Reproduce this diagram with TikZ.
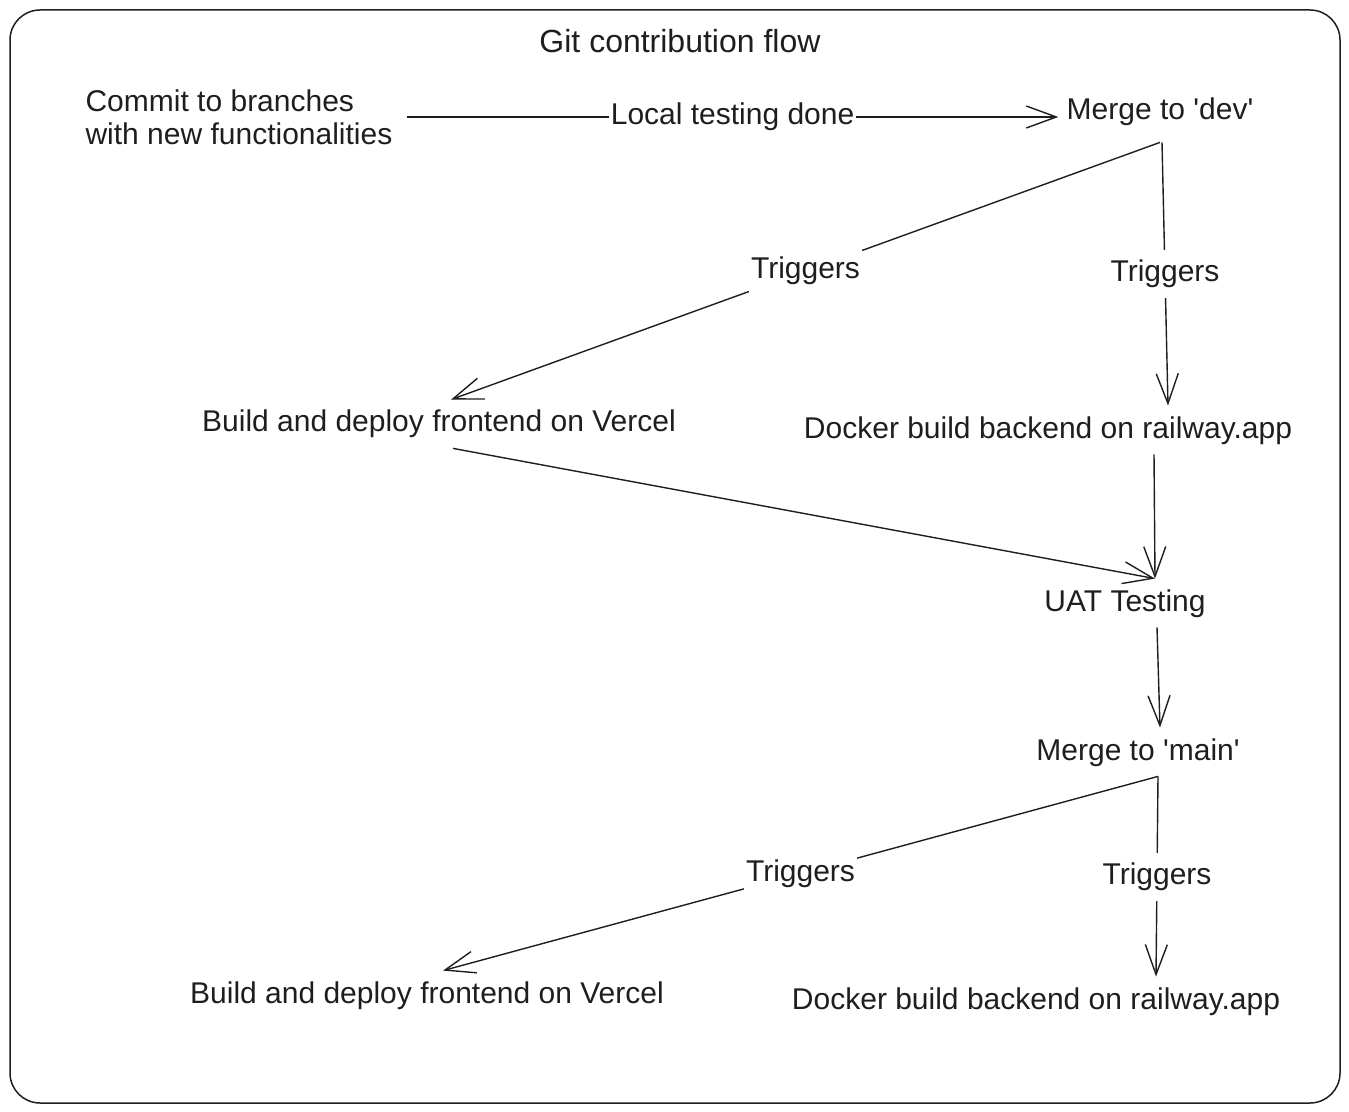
\documentclass[tikz,border=0pt]{standalone}
\usepackage{fontspec}
\setmainfont{Liberation Sans}
\usetikzlibrary{arrows.meta}
\definecolor{ink}{HTML}{1E1E1E}
\tikzset{
  lbl/.style={text=ink, font=\fontsize{15}{16.5}\selectfont, inner xsep=4pt, inner ysep=5pt, text height=11pt, text depth=3pt},
  wire/.style={draw=ink, line width=0.7pt, -{Straight Barb[length=15pt,width=11pt]}},
  trig/.style={lbl, fill=white, midway, inner xsep=1pt},
}

\begin{document}
\begin{tikzpicture}[x=0.5pt, y=-0.5pt]
      % Frame, nodes and wires:
      \useasboundingbox (0, 0) rectangle (1349, 1112);
      \draw[ink, line width=0.75pt, rounded corners=15pt] (10, 10) rectangle (1340, 1103);
      \node[lbl, font=\fontsize{16}{18}\selectfont](title) at (680, 45){Git contribution flow};
      \node[lbl, align=left, text height=, text depth=](commit) at (239, 117){Commit to branches\\with new functionalities};
      \node[lbl](mergedev) at (1160, 112){Merge to \textquotesingle dev\textquotesingle};
      \node[lbl](front1) at (439, 424){Build and deploy frontend on Vercel};
      \node[lbl](back1) at (1048, 430){Docker build backend on railway.app};
      \node[lbl](uat) at (1125, 603){UAT Testing};
      \node[lbl](mergemain) at (1138, 752){Merge to \textquotesingle main\textquotesingle};
      \node[lbl](front2) at (427, 995){Build and deploy frontend on Vercel};
      \node[lbl](back2) at (1036, 1001){Docker build backend on railway.app};
      \draw[wire] ([xshift=3pt]commit.east) -- (commit.east -| mergedev.west) node[trig]{Local testing done};
      \draw[wire] ([yshift=-3pt]mergedev.south) -- ([xshift=6pt]front1.north) node[trig]{Triggers};
      \draw[wire] ([xshift=1pt, yshift=-3pt]mergedev.south) -- ([xshift=60pt]back1.north) node[trig]{Triggers};
      \draw[wire] ([xshift=7pt]front1.south) -- ([xshift=15pt]uat.north);
      \draw[wire] ([xshift=53pt]back1.south) -- ([xshift=15pt]uat.north);
      \draw[wire] ([xshift=16pt]uat.south) -- ([xshift=11pt]mergemain.north);
      \draw[wire] ([xshift=10pt]mergemain.south) -- ([xshift=8pt]front2.north) node[trig]{Triggers};
      \draw[wire] ([xshift=10pt]mergemain.south) -- ([xshift=60pt]back2.north) node[trig]{Triggers};
    \end{tikzpicture}
\end{document}
